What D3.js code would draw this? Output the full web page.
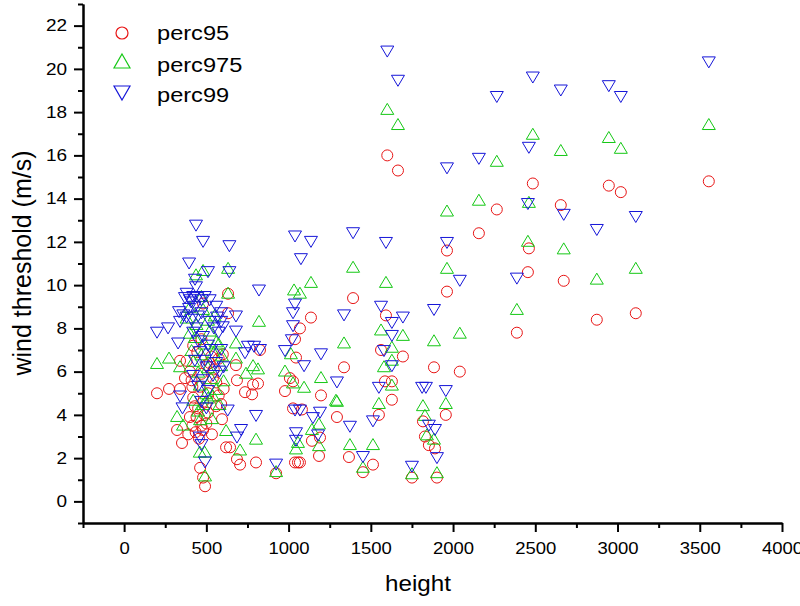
<!DOCTYPE html>
<html>
<head>
<meta charset="utf-8">
<script src="https://cdn.jsdelivr.net/npm/d3@7"></script>
<style>
  html, body { margin: 0; padding: 0; background: #fff; }
  svg { display: block; font-family: "Liberation Sans", Arial, sans-serif; }
</style>
</head>
<body>
<svg id="chart" width="800" height="606"></svg>
<script>
// ---------- data ----------
const xTicks = [0, 500, 1000, 1500, 2000, 2500, 3000, 3500, 4000];
const yTicks = [0, 2, 4, 6, 8, 10, 12, 14, 16, 18, 20, 22];
const seriesNames = ["perc95", "perc975", "perc99"];

// [height, wind threshold]
const perc95 = [
  [1600,16.0],[1665,15.3],[2485,14.7],[2266,13.5],[2655,13.7],[2947,14.6],[3020,14.3],[3555,14.8],
  [2157,12.4],[2461,11.7],[2455,10.6],[2673,10.2],[2874,8.4],[3111,8.7],[2388,7.8],[2041,6.0],[1963,11.6],
  [1963,9.7],[1392,9.4],[1592,8.6],[1562,7.0],[1695,6.7],[1337,6.2],[1884,6.2],[1586,5.55],[1628,5.55],
  [1628,4.7],[1294,3.9],[1549,4.0],[1956,4.0],[1817,3.7],[1829,3.0],[1853,2.6],[1890,2.45],[1367,2.05],
  [1513,1.7],[1452,1.35],[1750,1.1],[1902,1.1],
  [1136,8.5],[1069,8.0],[1039,7.5],[1045,6.65],[680,6.3],[686,5.6],[1008,5.7],[1027,5.55],[814,5.45],
  [784,5.4],[735,5.05],[778,4.95],[978,5.1],[1197,4.9],[1027,4.3],[1081,4.25],[1142,2.8],[1191,2.95],
  [644,2.5],[686,1.95],[705,1.7],[802,1.8],[1185,2.1],[1039,1.8],[1057,1.8],[1069,1.8],[924,1.3],[826,7.0],
  [632,9.6],[632,8.7],[480,9.15],
  [200,5.0],[273,5.2],[340,5.2],[340,6.5],[370,5.7],[322,3.3],[352,2.7],[390,3.1],[480,3.3],[534,3.1],
  [620,2.5],[462,1.55],[480,1.1],[492,0.7],
  [380,6.5],[400,6.0],[410,5.6],[420,4.8],[430,4.4],[440,3.9],[450,4.3],[460,5.3],[470,5.9],[480,4.6],
  [490,4.0],[500,3.6],[510,5.0],[520,6.4],[530,6.7],[545,6.1],[560,5.5],[575,4.9],[590,4.5],[605,5.2],
  [420,7.2],[445,6.9],[470,7.5],[400,3.9],[415,3.5],[435,3.2],[455,2.9],[500,6.3],[540,5.7],[575,6.6],
  [600,6.8],[470,3.5],[415,5.3],[510,4.1],[560,4.4],[595,3.8]
];

const perc975 = [
  [1600,18.15],[1665,17.45],[2485,17.0],[2266,15.75],[2655,16.25],[2947,16.85],[3020,16.35],[3555,17.45],
  [2157,13.95],[2461,13.85],[2455,12.05],[2673,11.7],[2874,10.3],[3111,10.8],[2388,8.9],[2041,7.8],[1963,13.45],
  [1392,10.85],[1963,10.8],[1592,10.15],[1562,7.95],[1695,7.7],[1337,7.35],[1884,7.45],[1628,7.15],
  [1580,6.25],[1628,6.55],[1628,5.4],[1294,4.65],[1549,4.55],[1817,4.45],[1956,4.55],[1829,4.0],
  [1841,3.1],[1884,2.9],[1373,2.65],[1513,2.65],[1452,1.6],[1750,1.3],[1902,1.35],
  [1136,10.15],[1033,9.8],[1069,9.65],[820,8.35],[680,7.35],[680,6.65],[1014,6.85],[784,6.3],[814,6.15],
  [741,5.95],[978,6.05],[1197,5.75],[1027,5.5],[1094,5.3],[1288,4.7],[1185,3.6],[1142,3.35],[802,2.9],
  [705,2.4],[1045,2.45],[1185,2.6],[1057,2.75],[924,1.4],
  [480,10.7],[437,10.5],[632,10.8],[632,9.65],[200,6.4],[273,6.65],[340,6.25],[595,6.75],[560,7.4],
  [322,3.95],[358,3.55],[462,3.8],[534,3.85],[620,3.3],[460,2.3],[490,2.3],[492,1.2],
  [380,8.5],[400,7.8],[410,7.0],[420,6.5],[430,7.6],[440,8.2],[450,6.0],[460,5.4],[470,6.8],[480,8.9],
  [490,7.3],[500,5.0],[510,6.2],[520,7.9],[530,5.7],[545,6.9],[560,5.2],[575,7.3],[590,6.3],[605,5.6],
  [420,4.7],[450,4.2],[480,4.5],[510,4.8],[540,4.9],[580,4.5],[400,9.0],[470,9.5],[510,8.4],[550,8.6]
];

const perc99 = [
  [1600,20.8],[1665,19.45],[2266,18.7],[2485,19.6],[2655,19.0],[2947,19.2],[3020,18.7],[3555,20.3],
  [2157,15.84],[1963,15.4],[2461,16.35],[2455,13.75],[2673,13.25],[2874,12.55],[3111,13.15],[2388,10.3],[2041,10.2],
  [1392,12.4],[1592,11.95],[1963,11.95],[1337,8.6],[1562,9.0],[1628,8.25],[1695,8.5],[1884,8.85],
  [1628,7.65],[1580,6.95],[1628,6.25],[1294,5.5],[1549,5.25],[1812,5.25],[1835,5.25],[1956,5.1],
  [1373,3.45],[1513,3.7],[1853,3.5],[1890,3.3],[1902,2.0],[1452,2.05],[1750,1.6],
  [1039,12.25],[1136,12.0],[1075,11.2],[820,9.75],[1039,9.1],[1027,8.7],[1027,8.1],[1020,7.45],
  [680,8.55],[680,7.85],[753,7.15],[790,7.15],[826,7.0],[978,6.95],[735,6.85],[1197,6.8],[1094,6.25],
  [630,4.2],[802,3.95],[1039,4.2],[1069,4.2],[1191,4.1],[1148,3.85],[711,3.3],[686,2.95],[1045,3.15],
  [1045,2.8],[1179,3.05],[924,1.7],
  [437,12.75],[480,12.0],[640,11.8],[395,11.0],[510,10.6],[640,10.6],[431,10.25],[437,9.9],
  [370,9.4],[400,9.3],[420,9.45],[445,9.4],[470,9.3],[490,9.45],[407,9.2],[334,8.75],[360,8.6],
  [380,8.5],[449,8.55],[565,8.5],[590,8.3],[600,8.05],[267,8.0],[200,7.8],[340,8.3],[328,7.3],
  [340,4.85],[355,4.3],[460,2.95],[470,2.6],[492,1.8],
  [380,9.6],[395,8.9],[410,8.4],[420,7.8],[430,9.0],[440,8.0],[450,7.4],[460,6.9],[470,8.7],[480,7.6],
  [490,6.5],[500,6.2],[510,7.2],[520,8.3],[530,7.0],[545,8.0],[560,6.4],[575,7.8],[590,7.0],[605,6.2],
  [420,5.8],[450,5.3],[480,5.6],[510,5.1],[540,5.8],[580,6.0],[430,6.5],[470,4.6],[500,4.3],[520,9.3],
  [560,9.0],[590,8.7]
];

// ---------- chart ----------
const svg = d3.select("#chart");
const x = d3.scaleLinear().domain([-250, 4000]).range([83, 782]);
const y = d3.scaleLinear().domain([-1, 23]).range([523, 4]);

const colors = { perc95: "#e81515", perc975: "#15c815", perc99: "#1515d8" };

const triUp = "M0,-5.5L6.5,5.5L-6.5,5.5Z";
const triDown = "M0,5.5L6.5,-5.5L-6.5,-5.5Z";

// widen glyphs horizontally (reference text is rendered slightly wide)
function stretch(sel, k) {
  sel.each(function () {
    const w = this.getComputedTextLength();
    if (w > 0) d3.select(this).attr("textLength", w * k).attr("lengthAdjust", "spacingAndGlyphs");
  });
}

const plot = svg.append("g");

function drawSeries(data, name, kind) {
  const g = plot.append("g")
    .attr("fill", "none")
    .attr("stroke", colors[name])
    .attr("stroke-width", 1);
  if (kind === "circle") {
    g.selectAll("circle").data(data).join("circle")
      .attr("cx", d => x(d[0])).attr("cy", d => y(d[1])).attr("r", 5.5);
  } else {
    g.selectAll("path").data(data).join("path")
      .attr("d", kind === "up" ? triUp : triDown)
      .attr("transform", d => `translate(${x(d[0])},${y(d[1])})`);
  }
}
drawSeries(perc95, "perc95", "circle");
drawSeries(perc975, "perc975", "up");
drawSeries(perc99, "perc99", "down");

// axes
const minorX = d3.range(-250, 4001, 500);
const minorY = d3.range(-1, 24, 2);

function styleAxis(g) {
  g.selectAll("path.domain").attr("stroke", "#000").attr("stroke-width", 2);
  g.selectAll(".tick line").attr("stroke", "#000").attr("stroke-width", 2);
  g.selectAll("text").attr("fill", "#000").attr("font-size", 16.5)
    .attr("font-family", "Liberation Sans, Arial, sans-serif");
}

const gx = svg.append("g").attr("transform", "translate(0,523)")
  .call(d3.axisBottom(x).tickValues(xTicks).tickFormat(d3.format("d"))
    .tickSize(9).tickSizeOuter(0).tickPadding(10));
styleAxis(gx);
stretch(gx.selectAll("text"), 1.12);
const gxm = svg.append("g").attr("transform", "translate(0,523)")
  .call(d3.axisBottom(x).tickValues(minorX).tickFormat("").tickSize(5).tickSizeOuter(0));
styleAxis(gxm);

const gy = svg.append("g").attr("transform", "translate(83,0)")
  .call(d3.axisLeft(y).tickValues(yTicks).tickFormat(d3.format("d"))
    .tickSize(9).tickSizeOuter(0).tickPadding(7));
styleAxis(gy);
stretch(gy.selectAll("text"), 1.15);
const gym = svg.append("g").attr("transform", "translate(83,0)")
  .call(d3.axisLeft(y).tickValues(minorY).tickFormat("").tickSize(5).tickSizeOuter(0));
styleAxis(gym);

// axis titles
const xt = svg.append("text").attr("x", 418).attr("y", 591).attr("text-anchor", "middle")
  .attr("font-size", 22).attr("fill", "#000").text("height");
stretch(xt, 1.1);
svg.append("text").attr("transform", "translate(31,263) rotate(-90)")
  .attr("text-anchor", "middle").attr("font-size", 25).attr("fill", "#000")
  .text("wind threshold (m/s)");

// legend
const legend = svg.append("g");
const legendRows = [
  { name: "perc95", kind: "circle", cy: 33, ty: 40 },
  { name: "perc975", kind: "up", cy: 61, ty: 71.5 },
  { name: "perc99", kind: "down", cy: 93, ty: 101.5 }
];
legendRows.forEach(r => {
  if (r.kind === "circle") {
    legend.append("circle").attr("cx", 122).attr("cy", r.cy).attr("r", 6)
      .attr("fill", "none").attr("stroke", colors[r.name]).attr("stroke-width", 1.2);
  } else {
    legend.append("path")
      .attr("d", r.kind === "up" ? "M0,-7L8,7L-8,7Z" : "M0,7L8,-7L-8,-7Z")
      .attr("transform", `translate(122,${r.cy})`)
      .attr("fill", "none").attr("stroke", colors[r.name]).attr("stroke-width", 1.2);
  }
  const t = legend.append("text").attr("x", 157).attr("y", r.ty).attr("font-size", 20)
    .attr("fill", "#000").text(r.name);
  stretch(t, 1.18);
});
</script>
</body>
</html>
